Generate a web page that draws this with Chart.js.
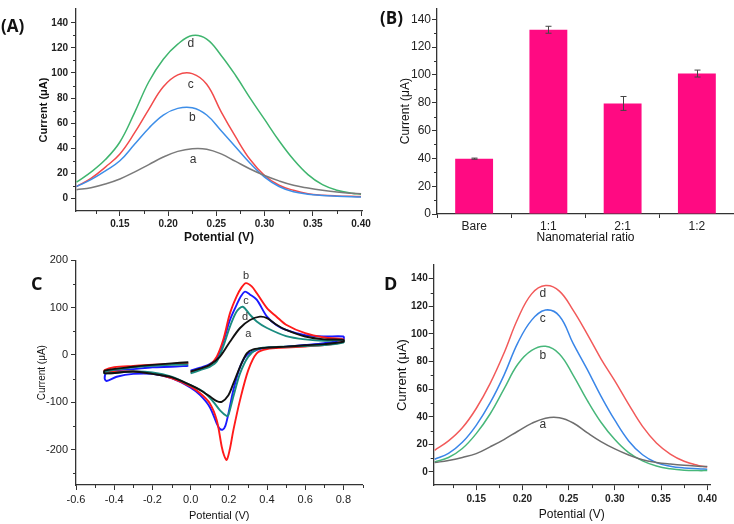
<!DOCTYPE html>
<html>
<head>
<meta charset="utf-8">
<script src="https://cdn.jsdelivr.net/npm/chart.js@4.4.0/dist/chart.umd.min.js"></script>
<style>
  html, body { margin: 0; padding: 0; background: #fff; }
  #wrap { position: relative; width: 734px; height: 524px; overflow: hidden; }
  canvas { position: absolute; left: 0; top: 0; }
  .tag { position: absolute; font-weight: bold; color: #111; line-height: 1; font-family: "Open Sans", "Liberation Sans", sans-serif; }
</style>
</head>
<body>
<div id="wrap">
  <canvas id="chartA" width="734" height="524"></canvas>
  <canvas id="chartB" width="734" height="524"></canvas>
  <canvas id="chartC" width="734" height="524"></canvas>
  <canvas id="chartD" width="734" height="524"></canvas>
  <div class="tag" style="left:1px;top:17px;font-size:17px">(A)</div>
  <div class="tag" style="left:380px;top:9px;font-size:17px">(B)</div>
  <div class="tag" style="left:31px;top:274px;font-size:18px">C</div>
  <div class="tag" style="left:384px;top:274px;font-size:18px">D</div>
</div>
<script>
// DPV potentials (V), shared by panels A and D
const dpvPot = [0.105, 0.12, 0.135, 0.15, 0.165, 0.18, 0.195, 0.21, 0.225, 0.24, 0.255,
  0.27, 0.285, 0.3, 0.315, 0.33, 0.345, 0.36, 0.375, 0.39, 0.4];

// Panel A - DPV, electrode modifications a-d
const curA_a = [7, 8.5, 11.5, 15.5, 21, 27, 33, 37.5, 39.7, 39.3, 35.5, 29.5, 23.5, 18.3, 14, 10.5, 8.3, 6.5, 5.1, 4.2, 3.7];
const curA_b = [9.5, 15, 22, 30, 43, 56, 66.5, 71.8, 72.3, 66.5, 54, 41, 28, 17, 9.5, 5.3, 3.4, 2.4, 1.8, 1.3, 1.1];
const curA_c = [9.5, 16, 25, 35.5, 52, 71, 89, 98.5, 99.5, 91, 69, 49, 31, 18.3, 10.5, 6.5, 3.8, 2.6, 2, 1.7, 1.6];
const curA_d = [13, 21, 31, 45, 68, 93, 111, 123, 129.8, 127, 114, 98, 80, 63, 46, 31, 19, 11, 6.6, 4.2, 3.4];

// Panel B - peak current vs nanomaterial ratio
const ratioLabels = ['Bare', '1:1', '2:1', '1:2'];
const ratioCurrent = [39.8, 132.5, 79.5, 101];
const ratioError = [0.4, 2.5, 5, 2.5];

// Panel C - cyclic voltammograms (scan order)
const cvPot_a = [0, 0.05, 0.1, 0.154, 0.206, 0.259, 0.311, 0.363, 0.4, 0.45, 0.5, 0.6, 0.7, 0.8,
  0.8, 0.7, 0.6, 0.5, 0.4, 0.328, 0.294, 0.259, 0.224, 0.198, 0.163, 0.137, 0.102, 0.049, 0, -0.1, -0.2, -0.3, -0.45,
  -0.45, -0.3, -0.2, -0.1, -0.012];
const cvCur_a = [-35, -29, -21, -3.5, 28, 57, 74, 81, 78, 64, 53, 39, 33, 32,
  28, 23, 20.5, 17.7, 15.5, 12, 3.5, -25, -60, -85, -99, -97.5, -88, -74, -64, -47, -40, -35, -39,
  -33, -25, -21, -17.7, -15.5];
const cvPot_b = [0, 0.05, 0.1, 0.137, 0.171, 0.206, 0.241, 0.267, 0.29, 0.32, 0.346, 0.4, 0.45, 0.5, 0.6, 0.7, 0.8,
  0.8, 0.7, 0.6, 0.5, 0.4, 0.346, 0.302, 0.259, 0.224, 0.205, 0.189, 0.175, 0.163, 0.137, 0.1, 0.05, 0, -0.1, -0.2, -0.3, -0.4, -0.45,
  -0.45, -0.4, -0.3, -0.2, -0.1, -0.012];
const cvCur_b = [-37, -30, -21, -3.5, 32, 88, 124, 143, 152, 145, 131, 99, 81, 64, 46, 37, 33,
  28, 21, 18, 15.5, 12.7, 3.5, -32, -95, -159, -200, -222, -212, -194, -138, -102, -81, -67, -49, -39, -35, -35, -37,
  -32, -26, -23, -20.5, -19, -17.7];
const cvPot_c = [0, 0.05, 0.1, 0.137, 0.171, 0.206, 0.241, 0.265, 0.285, 0.31, 0.346, 0.4, 0.45, 0.5, 0.6, 0.7, 0.8,
  0.8, 0.7, 0.6, 0.5, 0.4, 0.346, 0.294, 0.259, 0.224, 0.198, 0.182, 0.168, 0.15, 0.137, 0.1, 0.05, 0, -0.1, -0.2, -0.3, -0.387, -0.44, -0.45,
  -0.44, -0.4, -0.3, -0.2, -0.1, -0.012];
const cvCur_c = [-33, -27, -19, -7, 28, 74, 106, 125, 134, 128, 117, 81, 63, 53, 42, 39, 39,
  33, 25, 21, 17.7, 15.5, 10.6, 0, -25, -74, -124, -150, -158, -155, -145, -110, -85, -69, -49, -40, -40, -46, -55, -49,
  -37, -33, -30, -26, -25, -23];
const cvPot_d = [0, 0.05, 0.1, 0.137, 0.171, 0.206, 0.241, 0.273, 0.311, 0.346, 0.4, 0.5, 0.6, 0.7, 0.8,
  0.8, 0.7, 0.6, 0.5, 0.4, 0.346, 0.302, 0.259, 0.224, 0.198, 0.189, 0.154, 0.119, 0.067, 0, -0.1, -0.2, -0.3, -0.45,
  -0.45, -0.3, -0.2, -0.1, -0.012];
const cvCur_d = [-39, -32, -25, -14, 18, 60, 92, 102, 85, 71, 57, 40, 33, 30, 32,
  26, 21, 19, 17.7, 16, 12, -3.5, -39, -88, -127, -129, -117, -99, -78, -64, -46, -37, -35, -39,
  -35, -26, -23, -21, -20];

// Panel D - DPV, concentration series a-d
const curD_a = [6.8, 8.3, 10.5, 13.3, 18.2, 23.5, 29.5, 35.2, 39, 39.3, 35.5, 28.5, 22, 16.7, 12.3, 8.8, 6.9, 5.7, 4.8, 4.2, 3.9];
const curD_b = [7.2, 10.5, 17, 27.8, 42, 60, 78, 88, 91, 85.5, 70, 52, 36, 23.5, 14, 8, 4.3, 2.3, 1.3, 1, 1];
const curD_c = [9.2, 13.5, 21.5, 33.8, 50, 70, 93.5, 110, 117.3, 113, 93, 74.5, 55, 37.5, 22.5, 12.5, 6.8, 4.2, 2.9, 2.3, 2];
const curD_d = [15.7, 22.5, 32, 46, 64, 86, 111, 129, 135, 131, 117, 100, 82, 66, 49, 33, 21, 13, 7.8, 4.8, 3.6];

// tick values
const dpvXTicks = [0.15, 0.2, 0.25, 0.3, 0.35, 0.4];
const dpvXMinor = [0.125, 0.175, 0.225, 0.275, 0.325, 0.375];
const dpvYTicks = [0, 20, 40, 60, 80, 100, 120, 140];
const dpvYMinor = [10, 30, 50, 70, 90, 110, 130];
const cvXTicks = [-0.6, -0.4, -0.2, 0, 0.2, 0.4, 0.6, 0.8];
const cvXMinor = [-0.5, -0.3, -0.1, 0.1, 0.3, 0.5, 0.7, 0.9];
const cvYTicks = [-200, -100, 0, 100, 200];
const cvYMinor = [-250, -150, -50, 50, 150];

Chart.defaults.font.family = '"Liberation Sans", Arial, sans-serif';
Chart.defaults.color = '#222';
Chart.defaults.animation = false;

const pts = (xs, ys) => xs.map((x, i) => ({ x: x, y: ys[i] }));

// small outward ticks between the labelled ones
const minorTicks = {
  id: 'minorTicks',
  afterDraw(chart, args, opts) {
    const ctx = chart.ctx;
    ctx.save();
    ctx.strokeStyle = '#333';
    ctx.lineWidth = 1;
    ['x', 'y'].forEach(id => {
      const s = chart.scales[id];
      (opts[id] || []).forEach(v => {
        const p = Math.round(s.getPixelForValue(v)) + 0.5;
        ctx.beginPath();
        if (id === 'x') { ctx.moveTo(p, s.top); ctx.lineTo(p, s.top + 3); }
        else { ctx.moveTo(s.right, p); ctx.lineTo(s.right - 3, p); }
        ctx.stroke();
      });
    });
    ctx.restore();
  }
};

// a/b/c/d letters on the curves
const curveLabels = {
  id: 'curveLabels',
  afterDatasetsDraw(chart, args, opts) {
    if (!opts.items) return;
    const { ctx, scales: { x, y } } = chart;
    ctx.save();
    ctx.font = opts.font;
    ctx.fillStyle = '#333';
    ctx.textAlign = 'center';
    ctx.textBaseline = 'middle';
    opts.items.forEach(it => ctx.fillText(it.text, x.getPixelForValue(it.x), y.getPixelForValue(it.y)));
    ctx.restore();
  }
};

const errorBars = {
  id: 'errorBars',
  afterDatasetsDraw(chart) {
    const { ctx, scales: { y } } = chart;
    const meta = chart.getDatasetMeta(0);
    ctx.save();
    ctx.strokeStyle = '#444';
    ctx.lineWidth = 1;
    meta.data.forEach((bar, i) => {
      const x = Math.round(bar.x) + 0.5;
      const top = y.getPixelForValue(ratioCurrent[i] + ratioError[i]);
      const bot = y.getPixelForValue(ratioCurrent[i] - ratioError[i]);
      ctx.beginPath();
      ctx.moveTo(x, top); ctx.lineTo(x, bot);
      ctx.moveTo(x - 3, top); ctx.lineTo(x + 3, top);
      ctx.moveTo(x - 3, bot); ctx.lineTo(x + 3, bot);
      ctx.stroke();
    });
    ctx.restore();
  }
};

function linAxis(o) {
  return {
    type: 'linear', min: o.min, max: o.max, position: o.pos,
    afterFit: s => { if (o.pos === 'left') s.width = o.size; else s.height = o.size; },
    afterBuildTicks: s => { s.ticks = o.ticks.map(v => ({ value: v })); },
    ticks: { autoSkip: false, maxRotation: 0, padding: o.tickPad, font: o.tickFont, color: '#222', callback: o.fmt },
    grid: { drawOnChartArea: false, drawTicks: true, tickLength: 5, tickColor: '#333', tickWidth: 1 },
    border: { display: true, color: '#333', width: 1.3 },
    title: { display: true, text: o.title, font: o.titleFont, color: '#111', padding: 0 }
  };
}

function dpvSet(ys, color) {
  return { data: pts(dpvPot, ys), borderColor: color, borderWidth: 1.5, pointRadius: 0, tension: 0.4, fill: false };
}

function cvSet(xs, ys, color) {
  return { data: pts(xs, ys), borderColor: color, borderWidth: 1.9, pointRadius: 0, showLine: true, tension: 0.3, fill: false };
}

const commonPlugins = { legend: { display: false }, tooltip: { enabled: false } };

// Panel A
new Chart(document.getElementById('chartA'), {
  type: 'line',
  data: { datasets: [
    dpvSet(curA_a, '#7a7a7a'),
    dpvSet(curA_b, '#3d8ee8'),
    dpvSet(curA_c, '#f24b4b'),
    dpvSet(curA_d, '#3fb56e')
  ] },
  options: {
    responsive: false,
    layout: { padding: { left: 37.4, top: 8.2, right: 372, bottom: 278.8 } },
    scales: {
      x: linAxis({ min: 0.1045, max: 0.401, pos: 'bottom', size: 34.2, ticks: dpvXTicks, tickPad: 2,
        tickFont: { size: 10, weight: 'bold' }, fmt: v => v.toFixed(2),
        title: 'Potential (V)', titleFont: { size: 12, weight: 'bold' } }),
      y: linAxis({ min: -10, max: 151, pos: 'left', size: 38.6, ticks: dpvYTicks, tickPad: 3,
        tickFont: { size: 10, weight: 'bold' }, fmt: v => String(v),
        title: 'Current (μA)', titleFont: { size: 11, weight: 'bold' } })
    },
    plugins: Object.assign({}, commonPlugins, {
      minorTicks: { x: dpvXMinor, y: dpvYMinor },
      curveLabels: { font: '12px "Liberation Sans", Arial, sans-serif', items: [
        { text: 'd', x: 0.2235, y: 123 }, { text: 'c', x: 0.2235, y: 91 },
        { text: 'b', x: 0.225, y: 64 }, { text: 'a', x: 0.226, y: 31 }
      ] }
    })
  },
  plugins: [minorTicks, curveLabels]
});

// Panel B
new Chart(document.getElementById('chartB'), {
  type: 'bar',
  data: { labels: ratioLabels, datasets: [{
    data: ratioCurrent, backgroundColor: '#ff0a82', borderWidth: 0,
    barPercentage: 0.51, categoryPercentage: 1
  }] },
  options: {
    responsive: false,
    layout: { padding: { left: 398.8, top: 3.6, right: 0, bottom: 278.8 } },
    scales: {
      x: {
        type: 'category', position: 'bottom',
        afterFit: s => { s.height = 31.2; },
        ticks: { padding: 1, font: { size: 12 }, color: '#222' },
        grid: { offset: true, drawOnChartArea: false, drawTicks: true, tickLength: 4, tickColor: '#333' },
        border: { display: true, color: '#333', width: 1.3 },
        title: { display: true, text: 'Nanomaterial ratio', font: { size: 12 }, color: '#111', padding: 0 }
      },
      y: linAxis({ min: 0, max: 148, pos: 'left', size: 38.2, ticks: dpvYTicks, tickPad: 1,
        tickFont: { size: 12 }, fmt: v => String(v),
        title: 'Current (μA)', titleFont: { size: 12 } })
    },
    plugins: Object.assign({}, commonPlugins, { minorTicks: { y: dpvYMinor } })
  },
  plugins: [minorTicks, errorBars]
});

// Panel C
new Chart(document.getElementById('chartC'), {
  type: 'scatter',
  data: { datasets: [
    cvSet(cvPot_a, cvCur_a, '#111111'),
    cvSet(cvPot_d, cvCur_d, '#1a8c80'),
    cvSet(cvPot_b, cvCur_b, '#ff1a1a'),
    cvSet(cvPot_c, cvCur_c, '#1a1aff')
  ] },
  options: {
    responsive: false,
    layout: { padding: { left: 36, top: 260.4, right: 371.5, bottom: 1.4 } },
    scales: {
      x: linAxis({ min: -0.6, max: 0.9, pos: 'bottom', size: 37.6, ticks: cvXTicks, tickPad: 3,
        tickFont: { size: 11 }, fmt: v => v.toFixed(1),
        title: 'Potential (V)', titleFont: { size: 11 } }),
      y: linAxis({ min: -275, max: 200, pos: 'left', size: 40, ticks: cvYTicks, tickPad: 3,
        tickFont: { size: 11 }, fmt: v => String(v),
        title: 'Current (μA)', titleFont: { size: 10 } })
    },
    plugins: Object.assign({}, commonPlugins, {
      minorTicks: { x: cvXMinor, y: cvYMinor },
      curveLabels: { font: '11px "Liberation Sans", Arial, sans-serif', items: [
        { text: 'b', x: 0.29, y: 167 }, { text: 'c', x: 0.29, y: 115 },
        { text: 'd', x: 0.285, y: 81 }, { text: 'a', x: 0.302, y: 44.5 }
      ] }
    })
  },
  plugins: [minorTicks, curveLabels]
});

// Panel D
new Chart(document.getElementById('chartD'), {
  type: 'line',
  data: { datasets: [
    dpvSet(curD_a, '#6e6e6e'),
    dpvSet(curD_b, '#47b77a'),
    dpvSet(curD_c, '#3a86e8'),
    dpvSet(curD_d, '#f25a5a')
  ] },
  options: {
    responsive: false,
    layout: { padding: { left: 394.2, top: 264.9, right: 24, bottom: 1.8 } },
    scales: {
      x: linAxis({ min: 0.104, max: 0.403, pos: 'bottom', size: 37.1, ticks: dpvXTicks, tickPad: 3,
        tickFont: { size: 10, weight: 'bold' }, fmt: v => v.toFixed(2),
        title: 'Potential (V)', titleFont: { size: 12 } }),
      y: linAxis({ min: -9.5, max: 150, pos: 'left', size: 39.5, ticks: dpvYTicks, tickPad: 1,
        tickFont: { size: 10, weight: 'bold' }, fmt: v => String(v),
        title: 'Current (μA)', titleFont: { size: 13 } })
    },
    plugins: Object.assign({}, commonPlugins, {
      minorTicks: { x: dpvXMinor, y: dpvYMinor },
      curveLabels: { font: '12px "Liberation Sans", Arial, sans-serif', items: [
        { text: 'd', x: 0.222, y: 129 }, { text: 'c', x: 0.222, y: 111 },
        { text: 'b', x: 0.222, y: 84.5 }, { text: 'a', x: 0.222, y: 34 }
      ] }
    })
  },
  plugins: [minorTicks, curveLabels]
});
</script>
</body>
</html>
